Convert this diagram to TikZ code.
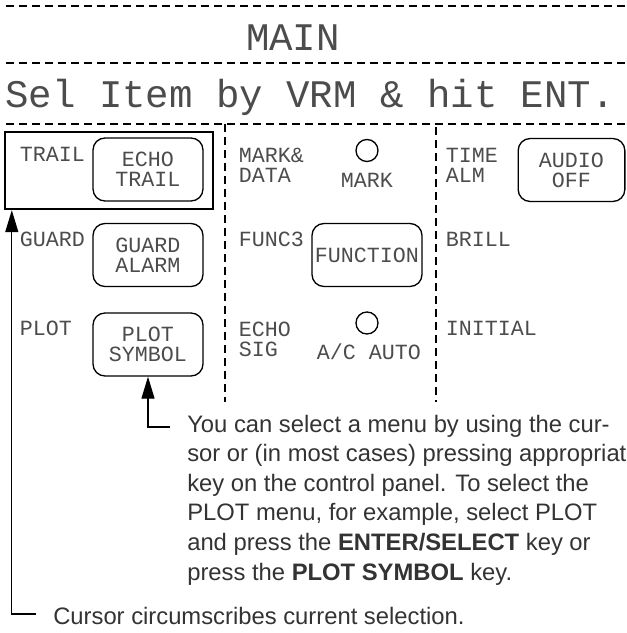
\documentclass[tikz,border=0pt]{standalone}
\usepackage{fontspec}
\setmainfont{Liberation Sans}
\setmonofont{Liberation Mono}
\usepackage{xcolor}
\usepackage{tikz}
\usetikzlibrary{arrows.meta,positioning}
\newcommand{\scrbig}{\ttfamily\fontsize{29.3}{30}\selectfont}
\newcommand{\scrsmall}{\ttfamily\fontsize{16.25}{15}\selectfont}
\newcommand{\notefont}{\fontsize{17.85}{22.2}\selectfont}
\definecolor{inkgray}{gray}{0.2}
\definecolor{scrgray}{gray}{0.3}

\begin{document}
\begin{tikzpicture}[x=0.75pt,y=-0.75pt,
    rule/.style={dashed,dash pattern=on 6pt off 3.75pt,line width=1pt},
    keybox/.style={draw,rounded corners=9pt,line width=1pt,minimum width=82.5pt,
        minimum height=47.25pt,inner sep=0pt,align=center,text=scrgray,font=\scrsmall},
    item/.style={anchor=base west,inner sep=0pt,align=left,text=scrgray,font=\scrsmall},
    lamp/.style={draw,circle,line width=1pt,minimum size=16.5pt,inner sep=0pt},
    note/.style={anchor=base west,inner sep=0pt,align=left,text=inkgray,font=\notefont},
    ptr/.style={-{Triangle[length=16.5pt,width=9.75pt]},line width=1pt}]
    \useasboundingbox (0,0) rectangle (626,633);

    % Menu header
    \draw[rule] (6,6) -- (626,6);
    \node[anchor=base,inner sep=0pt,text=scrgray,font=\scrbig] (title) at (293,50) {MAIN};
    \draw[rule] (6,63) -- (626,63);
    \node[anchor=base west,inner sep=0pt,text=scrgray,font=\scrbig] (prompt) at (5,107) {Sel Item by VRM \& hit ENT.};
    \draw[rule] (6,124) -- (626,124);
    \draw[rule] (225,124) -- (225,402);
    \draw[rule] (436,127) -- (436,402);

    % Left column
    \node[item] (trail) at (19.5,161) {TRAIL};
    \node[keybox] (echotrail) at (148,169.5) {ECHO\\TRAIL};
    \node[item] (guard) at (19.5,246) {GUARD};
    \node[keybox] (guardalarm) at (148,255) {GUARD\\ALARM};
    \node[item] (plot) at (19.5,335) {PLOT};
    \node[keybox] (plotsym) at (148,344.5) {PLOT\\SYMBOL};

    % Cursor on the current item
    \node[draw,line width=1.8pt,minimum width=156pt,minimum height=57.75pt,inner sep=0pt] (cursor) at (109,170.5) {};

    % Middle column
    \node[item] (markdata) at (238.5,182) {MARK\&\\DATA};
    \node[lamp] (marklamp) at (367,150.5) {};
    \node[item,anchor=base] (mark) at (367,187) {MARK};
    \node[item] (func) at (238.5,246) {FUNC3};
    \node[keybox] (function) at (367,255) {FUNCTION};
    \node[item] (echosig) at (238.5,356) {ECHO\\SIG};
    \node[lamp] (aclamp) at (367,323) {};
    \node[item,anchor=base] (acauto) at (369,359) {A/C AUTO};

    % Right column
    \node[item] (timealm) at (445.5,182) {TIME\\ALM};
    \node[keybox,minimum width=80pt] (audiooff) at (571.5,170) {AUDIO\\OFF};
    \node[item] (brill) at (445.5,246) {BRILL};
    \node[item] (initial) at (445.5,335) {INITIAL};

    % Explanations
    \node[note] (hint) at (187,580) {You can select a menu by using the cur-\\
        sor or (in most cases) pressing appropriat\\
        key on the control panel. To select the\\
        PLOT menu, for example, select PLOT\\
        and press the \textbf{ENTER/SELECT} key or\\
        press the \textbf{PLOT SYMBOL} key.};
    \node[note] (cursnote) at (53,624) {Cursor circumscribes current selection.};

    \coordinate (hintend) at (170,427);
    \draw[ptr] (hintend) -| (plotsym.south);
    \coordinate (cursend) at (36,614);
    \draw[ptr] (cursend) -| ([xshift=6pt]cursor.south west);
\end{tikzpicture}
\end{document}
